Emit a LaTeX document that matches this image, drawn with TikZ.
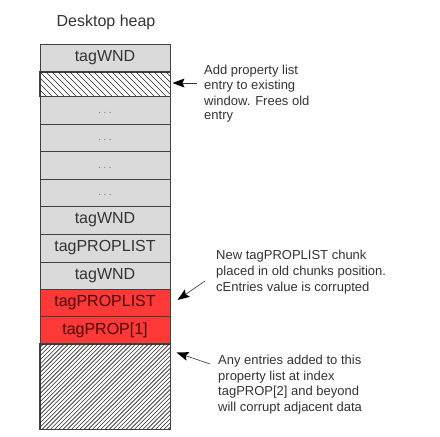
\documentclass[tikz,border=0pt]{standalone}
\usepackage{fontspec}
\setmainfont{Liberation Sans}
\newfontfamily\rowfont{Liberation Sans}[Scale=1.6]
\newfontfamily\notefont{Liberation Sans}[Scale=1.3]
\definecolor{rowgray}{HTML}{DADADA}
\definecolor{rowred}{HTML}{FF3838}
\definecolor{edgegray}{HTML}{404040}
\definecolor{txtgray}{HTML}{333333}
\definecolor{txtred}{HTML}{4A0808}
\definecolor{dotgray}{HTML}{707070}
\begin{document}
\begin{tikzpicture}[x=1pt,y=-1pt,
  heaprow/.style={draw=edgegray,line width=0.8pt,minimum width=130pt,inner sep=0pt,
    font=\rowfont,text=txtgray},
  grayrow/.style={heaprow,fill=rowgray},
  redrow/.style={heaprow,fill=rowred,text=txtred},
  dotrow/.style={grayrow,font=\normalfont,text=dotgray,text height=6pt,text depth=0pt},
  note/.style={anchor=north west,inner sep=0pt,align=left,text=txtgray,font=\notefont},
  hatchline/.style={line width=0.6pt,black!85},
  shaft/.style={draw=txtgray,line width=0.6pt},
  head/.style={fill=black,draw=none}]
\useasboundingbox[fill=white] (0,0) rectangle (440,437);
\node[text=txtgray,font=\rowfont] (title) at (106,22) {Desktop heap};
\node[grayrow,minimum height=28pt] (r1) at (105,58) {tagWND};
\node[heaprow,minimum height=24pt,fill=white] (r2) at (105,84) {};
\begin{scope}
  \clip (r2.north west) rectangle (r2.south east);
  \foreach \k in {16,22,...,172} \draw[hatchline] (\k,72) -- ++(24,24);
\end{scope}
\draw[edgegray,line width=0.8pt] (r2.north west) rectangle (r2.south east);
\node[dotrow,minimum height=28pt] (r3) at (105,110) {.\hspace{2.4pt}.\hspace{2.4pt}.};
\node[dotrow,minimum height=27pt] (r4) at (105,137.5) {.\hspace{2.4pt}.\hspace{2.4pt}.};
\node[dotrow,minimum height=28pt] (r5) at (105,165) {.\hspace{2.4pt}.\hspace{2.4pt}.};
\node[dotrow,minimum height=27pt] (r6) at (105,192.5) {.\hspace{2.4pt}.\hspace{2.4pt}.};
\node[grayrow,minimum height=28pt] (r7) at (105,220) {tagWND};
\node[grayrow,minimum height=28pt] (r8) at (105,248) {tagPROPLIST};
\node[grayrow,minimum height=27pt] (r9) at (105,275.5) {tagWND};
\node[redrow,minimum height=27pt] (r10) at (105,302.5) {tagPROPLIST};
\node[redrow,minimum height=28pt] (r11) at (105,330) {tagPROP[1]};
\node[heaprow,minimum height=85pt,fill=white] (r12) at (105,386.5) {};
\begin{scope}
  \clip (r12.north west) rectangle (r12.south east);
  \foreach \k in {-50,-45.8,...,175} \draw[hatchline] (\k,429) -- ++(85,-85);
\end{scope}
\draw[edgegray,line width=0.8pt] (r12.north west) rectangle (r12.south east);
\node[note] (n1) at (204,64.5) {Add property list\\[2.5pt]entry to existing\\[2.5pt]window. Frees old\\[2.5pt]entry};
\node[note] (n2) at (216,250.3) {New tagPROPLIST chunk\\[2.5pt]placed in old chunks position.\\[2.5pt]cEntries value is corrupted};
\node[note] (n3) at (218,355) {Any entries added to this\\[2.5pt]property list at index\\[2.5pt]tagPROP[2] and beyond\\[2.5pt]will corrupt adjacent data};
% pointer 1
\coordinate (t1) at (197,83);
\coordinate (h1) at (172.5,83);
\coordinate (i1) at (182.5,83);
\draw[shaft] (t1) -- (i1);
\fill[head] (h1) -- (184.5,78.5) -- (i1) -- (184.5,87.5) -- cycle;
% pointer 2
\coordinate (t2) at (205,281);
\coordinate (h2) at (177.5,300);
\coordinate (i2) at (185.73,294.31);
\draw[shaft] (t2) -- (i2);
\fill[head] (h2) -- (189.94,296.87) -- (i2) -- (184.82,289.47) -- cycle;
% pointer 3
\coordinate (t3) at (210,364);
\coordinate (h3) at (176.5,352.5);
\coordinate (i3) at (185.96,355.75);
\draw[shaft] (t3) -- (i3);
\fill[head] (h3) -- (186.39,360.66) -- (i3) -- (189.31,352.14) -- cycle;
\end{tikzpicture}
\end{document}
